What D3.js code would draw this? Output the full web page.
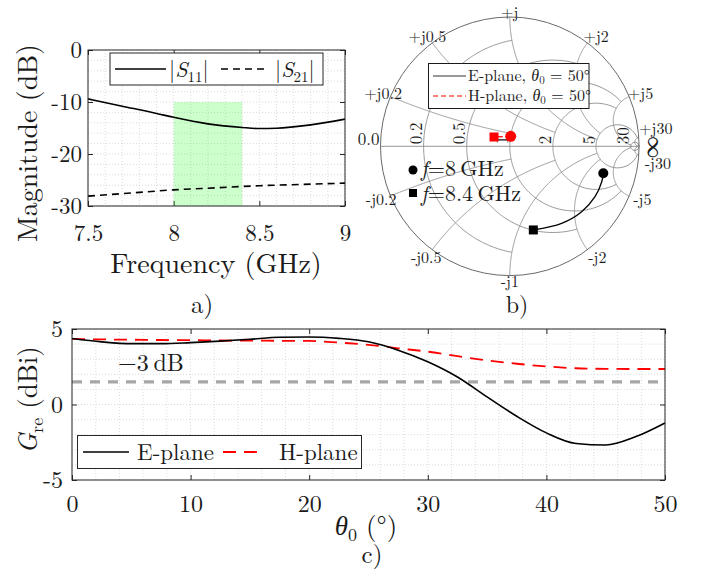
<!DOCTYPE html>
<html>
<head>
<meta charset="utf-8">
<script src="https://d3js.org/d3.v7.min.js"></script>
<style>
    body { margin: 0; background: #ffffff; }
    svg { display: block; }
    text { font-family: "Latin Modern Roman", "CMU Serif", "Liberation Serif", serif; fill: #1a1a1a; }
    .grid line { stroke: #d2d2d2; stroke-width: 0.8px; stroke-dasharray: 1,2; }
    .tick line { stroke: #262626; }
    .smith-grid { fill: none; stroke: #8a8a8a; stroke-width: 0.9px; }
</style>
</head>
<body>
<div id="container"></div>
<script>
    // ---- data: a) S-parameters ----
    const freqS11 = [7.5, 7.7, 7.9, 8.0, 8.2, 8.4, 8.5, 8.6, 8.8, 9.0];
    const s11dB   = [-9.4, -10.8, -12.2, -12.95, -14.2, -14.9, -15.1, -15.05, -14.4, -13.3];
    const freqS21 = [7.5, 7.75, 8.0, 8.25, 8.5, 8.75, 9.0];
    const s21dB   = [-28.1, -27.5, -26.9, -26.5, -26.1, -25.85, -25.6];
    const bandGHz = [8.0, 8.4];
    const bandDb  = [-30, -10];
    const freqTicks = [7.5, 8, 8.5, 9];
    const magTicks  = [0, -10, -20, -30];

    // ---- data: b) Smith chart ----
    const gridValues = [0.2, 0.5, 1, 2, 5, 30];
    const gridEnds   = [1, 2, 5, 5, 30, Infinity];
    const resLabels  = ["0.2", "0.5", "1", "2", "5", "30"];
    const reactPosLabels = ["+j0.2", "+j0.5", "+j", "+j2", "+j5", "+j30"];
    const reactNegLabels = ["-j0.2", "-j0.5", "-j1", "-j2", "-j5", "-j30"];
    const ePlaneRe = [0.723, 0.711, 0.659, 0.556, 0.401, 0.182];
    const ePlaneIm = [-0.209, -0.274, -0.390, -0.506, -0.596, -0.647];
    const hPlaneRe = [0.007, -0.122];
    const hPlaneIm = [0.077, 0.072];

    // ---- data: c) realized gain ----
    const theta = [0, 2.5, 5, 7.5, 10, 12.5, 15, 17.5, 20, 22.5, 25, 27.5, 30, 32.5, 35, 37.5, 40, 42.5, 45, 47.5, 50];
    const gainE = [4.37, 4.15, 4.03, 4.03, 4.1, 4.2, 4.32, 4.45, 4.47, 4.38, 4.15, 3.6, 2.83, 1.82, 0.5, -0.78, -1.88, -2.58, -2.68, -2.14, -1.22];
    const gainH = [4.34, 4.31, 4.29, 4.27, 4.26, 4.24, 4.23, 4.22, 4.21, 4.1, 3.95, 3.72, 3.5, 3.2, 2.92, 2.7, 2.52, 2.4, 2.36, 2.35, 2.35];
    const halfPower = 1.5;
    const thetaTicks = [0, 10, 20, 30, 40, 50];
    const gainTicks  = [5, 0, -5];

    const svg = d3.select("#container")
        .append("svg")
        .attr("width", 707)
        .attr("height", 580);

    // boxed axes with inward ticks and a dotted grid
    function drawAxes(g, x, y, xTicks, yTicks, xGrid, yGrid, fs, xPad, yPad) {
        const [x0, x1] = x.range();
        const [y0, y1] = y.range(); // y0 bottom, y1 top
        const grid = g.append("g").attr("class", "grid");
        grid.selectAll(".gx").data(xGrid).enter().append("line")
            .attr("x1", d => x(d)).attr("x2", d => x(d)).attr("y1", y1).attr("y2", y0);
        grid.selectAll(".gy").data(yGrid).enter().append("line")
            .attr("y1", d => y(d)).attr("y2", d => y(d)).attr("x1", x0).attr("x2", x1);

        const ax = g.append("g").attr("class", "axes");
        ax.append("g").attr("transform", "translate(0," + y0 + ")")
            .call(d3.axisBottom(x).tickValues(xTicks).tickSizeInner(-5).tickSizeOuter(0).tickPadding(xPad).tickFormat(d3.format("~g")))
            .call(s => s.select(".domain").remove())
            .selectAll("text").style("font-size", fs + "px").attr("fill", "#1a1a1a");
        ax.append("g").attr("transform", "translate(0," + y1 + ")")
            .call(d3.axisTop(x).tickValues(xTicks).tickSizeInner(-5).tickSizeOuter(0).tickFormat(""))
            .call(s => s.select(".domain").remove());
        ax.append("g").attr("transform", "translate(" + x0 + ",0)")
            .call(d3.axisLeft(y).tickValues(yTicks).tickSizeInner(-5).tickSizeOuter(0).tickPadding(yPad).tickFormat(d => d < 0 ? "-" + Math.abs(d) : d))
            .call(s => s.select(".domain").remove())
            .selectAll("text").style("font-size", fs + "px").attr("fill", "#1a1a1a");
        ax.append("g").attr("transform", "translate(" + x1 + ",0)")
            .call(d3.axisRight(y).tickValues(yTicks).tickSizeInner(-5).tickSizeOuter(0).tickFormat(""))
            .call(s => s.select(".domain").remove());
        ax.selectAll("text").style("font-family", "'Latin Modern Roman','CMU Serif','Liberation Serif',serif");
        return ax;
    }
    function frame(g, x, y) {
        const [x0, x1] = x.range();
        const [y0, y1] = y.range();
        g.append("rect").attr("x", x0).attr("y", y1).attr("width", x1 - x0).attr("height", y0 - y1)
            .attr("fill", "none").attr("stroke", "#262626").attr("stroke-width", 1);
    }

    // ================= a) =================
    const ga = svg.append("g");
    const xa = d3.scaleLinear().domain([7.5, 9]).range([88, 345]);
    const ya = d3.scaleLinear().domain([-30, 0]).range([206, 50]);
    drawAxes(ga, xa, ya, freqTicks, magTicks, xa.ticks(15), ya.ticks(15), 23, 19, 6);

    ga.append("rect")
        .attr("x", xa(bandGHz[0])).attr("width", xa(bandGHz[1]) - xa(bandGHz[0]))
        .attr("y", ya(bandDb[1])).attr("height", ya(bandDb[0]) - ya(bandDb[1]))
        .attr("fill", "#00ff00").attr("fill-opacity", 0.2);

    const lineA = d3.line().x(d => xa(d[0])).y(d => ya(d[1])).curve(d3.curveMonotoneX);
    ga.append("path").datum(freqS11.map((f, i) => [f, s11dB[i]]))
        .attr("d", lineA).attr("fill", "none").attr("stroke", "#000").attr("stroke-width", 1.6);
    ga.append("path").datum(freqS21.map((f, i) => [f, s21dB[i]]))
        .attr("d", lineA).attr("fill", "none").attr("stroke", "#000").attr("stroke-width", 1.6)
        .attr("stroke-dasharray", "7,5");
    frame(ga, xa, ya);

    // legend a
    const la = ga.append("g");
    la.append("rect").attr("x", 110).attr("y", 53).attr("width", 213).attr("height", 32)
        .attr("fill", "#fff").attr("stroke", "#262626").attr("stroke-width", 1);
    la.append("line").attr("x1", 115).attr("x2", 166).attr("y1", 69).attr("y2", 69)
        .attr("stroke", "#000").attr("stroke-width", 1.6);
    la.append("line").attr("x1", 221).attr("x2", 268).attr("y1", 69).attr("y2", 69)
        .attr("stroke", "#000").attr("stroke-width", 1.6).attr("stroke-dasharray", "7,5");
    [["11", 169], ["21", 275]].forEach(([sub, x0]) => {
        const t = la.append("text").attr("x", x0).attr("y", 77).style("font-size", "22px");
        t.append("tspan").text("|");
        t.append("tspan").style("font-style", "italic").text("S");
        t.append("tspan").attr("dy", 5).style("font-size", "15px").text(sub);
        t.append("tspan").attr("dy", -5).text("|");
    });

    ga.append("text").attr("transform", "translate(37,143) rotate(-90)")
        .attr("text-anchor", "middle").style("font-size", "28px").text("Magnitude (dB)");
    ga.append("text").attr("x", 216).attr("y", 273)
        .attr("text-anchor", "middle").style("font-size", "28px").text("Frequency (GHz)");
    ga.append("text").attr("x", 202).attr("y", 313)
        .attr("text-anchor", "middle").style("font-size", "25px").text("a)");

    // ================= b) Smith chart =================
    const gb = svg.append("g");
    const cx = 509.8, cy = 146.3, R = 129.3;
    const sx = d3.scaleLinear().domain([-1, 1]).range([cx - R, cx + R]);
    const sy = d3.scaleLinear().domain([-1, 1]).range([cy + R, cy - R]);
    const gamma = (r, x) => {
        const d = (r + 1) * (r + 1) + x * x;
        return [(r * r + x * x - 1) / d, (2 * x) / d];
    };
    const smithLine = d3.line().x(d => sx(d[0])).y(d => sy(d[1]));
    const N = 240;
    const steps = d3.range(N + 1).map(i => i / N);

    // resistance circles, clipped at |x| = end
    gridValues.forEach((r, i) => {
        const phiMax = isFinite(gridEnds[i]) ? Math.atan(gridEnds[i]) : Math.PI / 2;
        const pts = steps.map(s => gamma(r, Math.tan(-phiMax + 2 * phiMax * s)));
        gb.append("path").attr("class", "smith-grid").attr("d", smithLine(pts));
    });
    // reactance arcs, clipped at r = end
    gridValues.forEach((xv, i) => {
        const tMax = isFinite(gridEnds[i]) ? gridEnds[i] / (1 + gridEnds[i]) : 0.99999;
        [1, -1].forEach(sgn => {
            const pts = steps.map(s => { const t = tMax * s; return gamma(t / (1 - t), sgn * xv); });
            gb.append("path").attr("class", "smith-grid").attr("d", smithLine(pts));
        });
    });
    gb.append("line").attr("class", "smith-grid").attr("x1", sx(-1)).attr("x2", sx(1)).attr("y1", sy(0)).attr("y2", sy(0));
    gb.append("circle").attr("cx", cx).attr("cy", cy).attr("r", R)
        .attr("fill", "none").attr("stroke", "#6a6a6a").attr("stroke-width", 1);

    // resistance labels along the real axis
    gridValues.forEach((r, i) => {
        const gx = gamma(r, 0)[0];
        gb.append("text").attr("transform", "translate(" + (sx(gx) - 1.5) + "," + (cy - 2) + ") rotate(-90)")
            .attr("text-anchor", "start").style("font-size", "17px").attr("fill", "#333").text(resLabels[i]);
    });
    gb.append("text").attr("x", cx - R - 1).attr("y", cy - 1).attr("text-anchor", "end")
        .style("font-size", "17px").attr("fill", "#333").text("0.0");
    gb.append("text").attr("transform", "translate(" + (cx + R + 19) + "," + (cy + 1) + ") rotate(-90)")
        .attr("text-anchor", "middle").style("font-size", "22px").attr("fill", "#333").text("∞");

    // reactance labels around the rim
    gridValues.forEach((xv, i) => {
        [[1, reactPosLabels[i]], [-1, reactNegLabels[i]]].forEach(([sgn, lab]) => {
            const g = gamma(0, sgn * xv);
            const ang = Math.atan2(g[1], g[0]);
            let rr = R + (sgn > 0 ? 8 : 10);
            if (Math.abs(Math.cos(ang)) < 0.1) rr = R + (sgn > 0 ? 4 : 6);
            let px = cx + rr * Math.cos(ang) + (g[0] > 0.5 ? 4 : 0);
            let py = cy - rr * Math.sin(ang);
            if (Math.abs(Math.sin(ang)) < 0.2) { px += 5; py -= sgn * 8; }
            gb.append("text").attr("x", px).attr("y", py).attr("dy", "0.33em")
                .attr("text-anchor", "middle").style("font-size", "16px").attr("fill", "#333").text(lab);
        });
    });

    // E-plane trajectory
    const ePts = ePlaneRe.map((re, i) => [re, ePlaneIm[i]]);
    gb.append("path").datum(ePts).attr("d", d3.line().x(d => sx(d[0])).y(d => sy(d[1])).curve(d3.curveCatmullRom))
        .attr("fill", "none").attr("stroke", "#000").attr("stroke-width", 1.3);
    gb.append("circle").attr("cx", sx(ePts[0][0])).attr("cy", sy(ePts[0][1])).attr("r", 5).attr("fill", "#000");
    const eLast = ePts[ePts.length - 1];
    gb.append("rect").attr("x", sx(eLast[0]) - 4.5).attr("y", sy(eLast[1]) - 4.5).attr("width", 9).attr("height", 9).attr("fill", "#000");

    // H-plane trajectory
    const hPts = hPlaneRe.map((re, i) => [re, hPlaneIm[i]]);
    gb.append("path").datum(hPts).attr("d", smithLine)
        .attr("fill", "none").attr("stroke", "#f00").attr("stroke-width", 1.3).attr("stroke-dasharray", "5,3");
    gb.append("circle").attr("cx", sx(hPts[0][0])).attr("cy", sy(hPts[0][1])).attr("r", 5.5).attr("fill", "#f00");
    gb.append("rect").attr("x", sx(hPts[1][0]) - 4.5).attr("y", sy(hPts[1][1]) - 4.5).attr("width", 9).attr("height", 9).attr("fill", "#f00");

    // legend b
    const lb = gb.append("g");
    lb.append("rect").attr("x", 428.5).attr("y", 63.5).attr("width", 160.5).attr("height", 45)
        .attr("fill", "#fff").attr("stroke", "#1a1a1a").attr("stroke-width", 1);
    lb.append("line").attr("x1", 433).attr("x2", 466).attr("y1", 76).attr("y2", 76).attr("stroke", "#333").attr("stroke-width", 1.2);
    lb.append("line").attr("x1", 433).attr("x2", 466).attr("y1", 96).attr("y2", 96).attr("stroke", "#f00").attr("stroke-width", 1.2).attr("stroke-dasharray", "5,3");
    [["E-plane, ", 81], ["H-plane, ", 101]].forEach(([lab, yb]) => {
        const t = lb.append("text").attr("x", 468).attr("y", yb).style("font-size", "16px").attr("fill", "#333");
        t.append("tspan").text(lab);
        t.append("tspan").style("font-style", "italic").text("θ");
        t.append("tspan").attr("dy", 3).style("font-size", "11px").text("0");
        t.append("tspan").attr("dy", -3).text(" = 50°");
    });

    // frequency annotation
    gb.append("circle").attr("cx", 413).attr("cy", 170).attr("r", 4.5).attr("fill", "#000");
    gb.append("rect").attr("x", 409).attr("y", 189).attr("width", 8).attr("height", 8).attr("fill", "#000");
    [["=8\u2009GHz", 176], ["=8.4\u2009GHz", 201]].forEach(([lab, yb]) => {
        const t = gb.append("text").attr("x", 421).attr("y", yb).style("font-size", "22px").attr("fill", "#000");
        t.append("tspan").style("font-style", "italic").text("f");
        t.append("tspan").text(lab);
    });
    gb.append("text").attr("x", 517).attr("y", 313).attr("text-anchor", "middle").style("font-size", "24px").text("b)");

    // ================= c) =================
    const gc = svg.append("g");
    const xc = d3.scaleLinear().domain([0, 50]).range([72, 665]);
    const yc = d3.scaleLinear().domain([-5, 5]).range([480, 329]);
    drawAxes(gc, xc, yc, thetaTicks, gainTicks, xc.ticks(25), yc.ticks(10), 24, 15, 9);

    gc.append("line").attr("x1", xc(0)).attr("x2", xc(50)).attr("y1", yc(halfPower)).attr("y2", yc(halfPower))
        .attr("stroke", "#a6a6a6").attr("stroke-width", 3.2).attr("stroke-dasharray", "10,8");
    gc.append("text").attr("x", 118).attr("y", 371).style("font-size", "24px").attr("fill", "#999")
        .text("−3\u2009dB");

    const lineC = d3.line().x(d => xc(d[0])).y(d => yc(d[1])).curve(d3.curveMonotoneX);
    gc.append("path").datum(theta.map((t, i) => [t, gainH[i]]))
        .attr("d", lineC).attr("fill", "none").attr("stroke", "#f00").attr("stroke-width", 1.8)
        .attr("stroke-dasharray", "13,8");
    gc.append("path").datum(theta.map((t, i) => [t, gainE[i]]))
        .attr("d", lineC).attr("fill", "none").attr("stroke", "#000").attr("stroke-width", 1.6);
    frame(gc, xc, yc);

    // legend c
    const lc = gc.append("g");
    lc.append("rect").attr("x", 77.5).attr("y", 435.5).attr("width", 284).attr("height", 33)
        .attr("fill", "#fff").attr("stroke", "#262626").attr("stroke-width", 1);
    lc.append("line").attr("x1", 83).attr("x2", 129).attr("y1", 452).attr("y2", 452).attr("stroke", "#000").attr("stroke-width", 1.6);
    lc.append("line").attr("x1", 223).attr("x2", 263).attr("y1", 452).attr("y2", 452).attr("stroke", "#f00").attr("stroke-width", 1.8).attr("stroke-dasharray", "13,8");
    lc.append("text").attr("x", 137).attr("y", 460).style("font-size", "23px").text("E-plane");
    lc.append("text").attr("x", 279).attr("y", 460).style("font-size", "23px").text("H-plane");

    const gy = gc.append("text").attr("transform", "translate(37,400) rotate(-90)")
        .attr("text-anchor", "middle").style("font-size", "27px");
    gy.append("tspan").style("font-style", "italic").text("G");
    gy.append("tspan").attr("dy", 6).style("font-size", "18px").text("re");
    gy.append("tspan").attr("dy", -6).text(" (dBi)");

    const gx = gc.append("text").attr("x", 366).attr("y", 535)
        .attr("text-anchor", "middle").style("font-size", "27px");
    gx.append("tspan").style("font-style", "italic").text("θ");
    gx.append("tspan").attr("dy", 6).style("font-size", "18px").text("0");
    gx.append("tspan").attr("dy", -6).text(" (°)");

    gc.append("text").attr("x", 372).attr("y", 563).attr("text-anchor", "middle").style("font-size", "25px").text("c)");
</script>
</body>
</html>
